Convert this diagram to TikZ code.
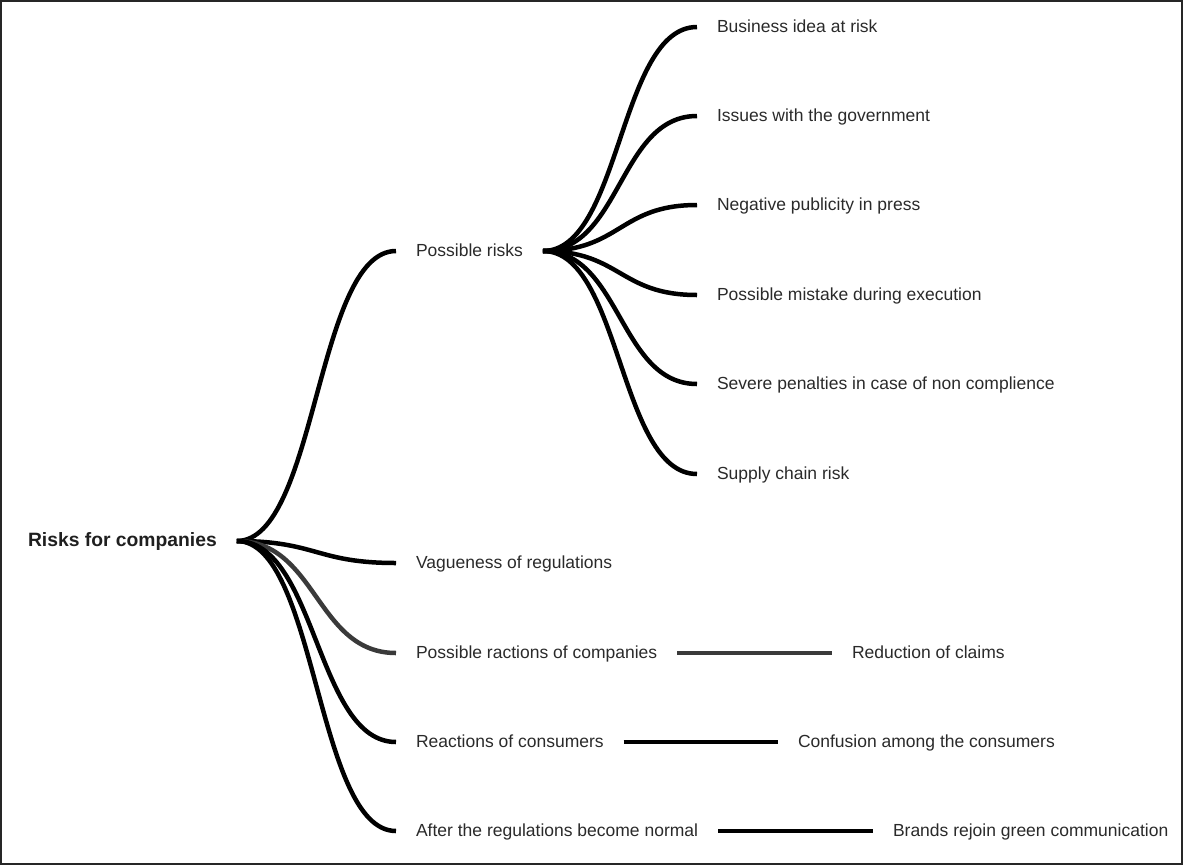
\documentclass[tikz,border=0pt]{standalone}
\usepackage{fontspec}
\setmainfont{Liberation Sans}
\definecolor{txt}{HTML}{2A2A2A}
\definecolor{graylink}{HTML}{3A3A3A}
\begin{document}
\begin{tikzpicture}[x=1pt,y=-1pt,
  lbl/.style={anchor=west, inner xsep=20pt, inner ysep=0pt, outer sep=0pt,
    text height=1.0em, text depth=0pt, font=\fontsize{17.5}{20}\selectfont, text=txt},
  rootlbl/.style={lbl, font=\fontsize{19.3}{22}\selectfont\bfseries, text=black!88},
  conn/.style={line width=4.5pt, draw=black},
  grayconn/.style={line width=4.5pt, draw=graylink}
]
\useasboundingbox (0,0) rectangle (1183,865);
\draw[line width=2pt, draw=black!85] (1,1) rectangle (1182,864);

% nodes
\node[rootlbl] (root) at (8,541) {Risks for companies};

\node[lbl] (pr) at (396,251) {Possible risks};
\node[lbl] (vr) at (396,563) {Vagueness of regulations};
\node[lbl] (prc) at (396,653) {Possible ractions of companies};
\node[lbl] (rc) at (396,742) {Reactions of consumers};
\node[lbl] (ar) at (396,831) {After the regulations become normal};

\node[lbl] (bi) at (697,27) {Business idea at risk};
\node[lbl] (ig) at (697,116) {Issues with the government};
\node[lbl] (np) at (697,205) {Negative publicity in press};
\node[lbl] (pm) at (697,295) {Possible mistake during execution};
\node[lbl] (sp) at (697,384) {Severe penalties in case of non complience};
\node[lbl] (sc) at (697,474) {Supply chain risk};

\node[lbl] (red) at (832,653) {Reduction of claims};
\node[lbl] (conf) at (778,742) {Confusion among the consumers};
\node[lbl] (br) at (873,831) {Brands rejoin green communication};

% connectors from root
\draw[conn] (root.east) .. controls +(80,0) and +(-80,0) .. (pr.west);
\draw[conn] (root.east) .. controls +(80,0) and +(-80,0) .. (vr.west);
\draw[grayconn] (root.east) .. controls +(80,0) and +(-80,0) .. (prc.west);
\draw[conn] (root.east) .. controls +(80,0) and +(-80,0) .. (rc.west);
\draw[conn] (root.east) .. controls +(80,0) and +(-80,0) .. (ar.west);

% connectors from Possible risks
\foreach \c in {bi,ig,np,pm,sp,sc}
  \draw[conn] (pr.east) .. controls +(78,0) and +(-78,0) .. (\c.west);

% straight connectors
\draw[grayconn] (prc.east) -- (red.west);
\draw[conn] (rc.east) -- (conf.west);
\draw[conn] (ar.east) -- (br.west);
\end{tikzpicture}
\end{document}
